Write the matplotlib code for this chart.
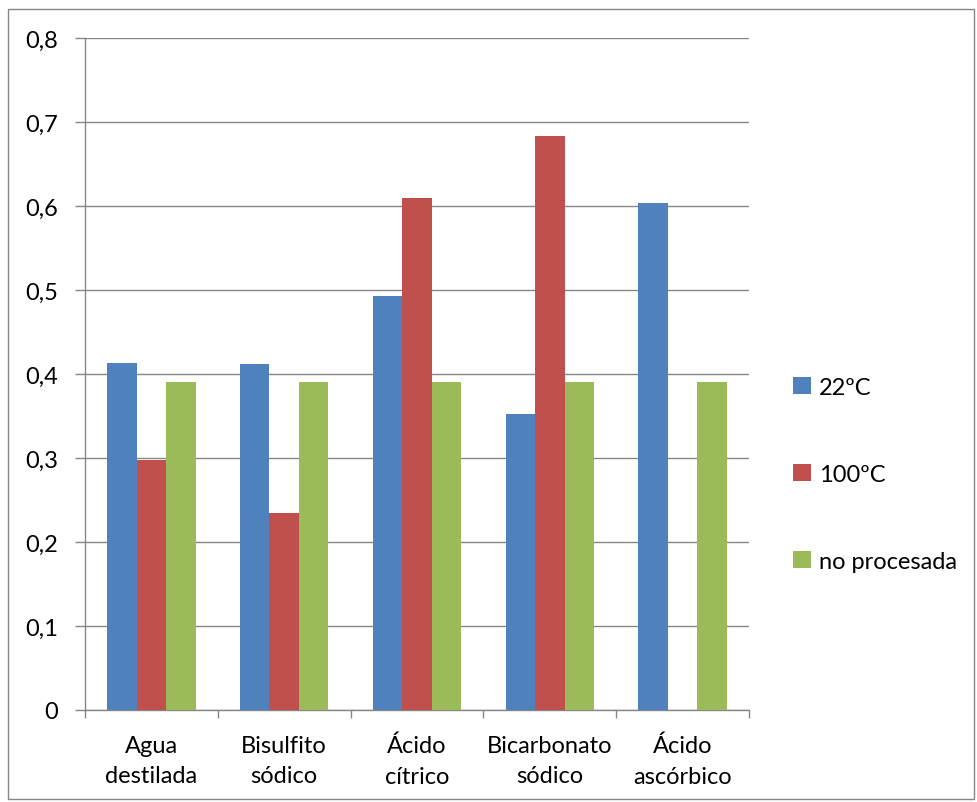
import matplotlib.pyplot as plt
import numpy as np
from matplotlib.patches import Rectangle

plt.rcParams['font.family'] = ['Lato', 'DejaVu Sans']

# Data per treatment
categories = ['Agua\ndestilada', 'Bisulfito\nsódico', 'Ácido\ncítrico',
              'Bicarbonato\nsódico', 'Ácido\nascórbico']
t22 = [0.413, 0.412, 0.493, 0.352, 0.604]
t100 = [0.298, 0.234, 0.610, 0.683, 0]
no_procesada = [0.390, 0.390, 0.390, 0.390, 0.390]
series_names = ['22ºC', '100ºC', 'no procesada']
colors = ['#4f81bd', '#c0504d', '#9bbb59']
yticks = [0, 0.1, 0.2, 0.3, 0.4, 0.5, 0.6, 0.7, 0.8]

fs = 17
fig = plt.figure(figsize=(9.78, 8.03), dpi=100)
ax = fig.add_axes([0.0869, 0.1146, 0.679, 0.8368])

x = np.arange(len(categories))
w = 0.222
for i, (vals, name, c) in enumerate(zip([t22, t100, no_procesada], series_names, colors)):
    ax.bar(x + (i - 1) * w, vals, width=w, color=c, label=name, zorder=3)

ax.set_xlim(-0.5, len(categories) - 0.5)
ax.set_ylim(0, 0.8)
ax.set_yticks(yticks)
ax.set_yticklabels([('%.1f' % v).replace('.', ',') if v else '0' for v in yticks])
ax.yaxis.grid(True, color='#868686', linewidth=1.0, zorder=0)

ax.set_xticks(x)
ax.set_xticklabels(categories, linespacing=1.55)
ax.set_xticks(np.arange(-0.5, len(categories)), minor=True)
ax.tick_params(axis='x', which='major', length=0, pad=18, labelsize=fs)
ax.tick_params(axis='x', which='minor', length=5.8, width=1.0, color='#868686', direction='out')
ax.tick_params(axis='y', length=7.2, width=1.0, color='#868686', labelsize=fs, pad=12)

for s in ['top', 'right']:
    ax.spines[s].set_visible(False)
for s in ['left', 'bottom']:
    ax.spines[s].set_color('#868686')
    ax.spines[s].set_linewidth(1.0)

fig.legend(loc='center left', bbox_to_anchor=(0.789, 0.408), frameon=False,
           fontsize=fs, handlelength=0.75, handleheight=0.75, handletextpad=0.35,
           labelspacing=2.8)

# chart border
fig.patches.append(Rectangle((0.008, 0.004), 0.988, 0.984, transform=fig.transFigure,
                             fill=False, edgecolor='#868686', linewidth=1.0))

fig.savefig('out.png', dpi=100)
